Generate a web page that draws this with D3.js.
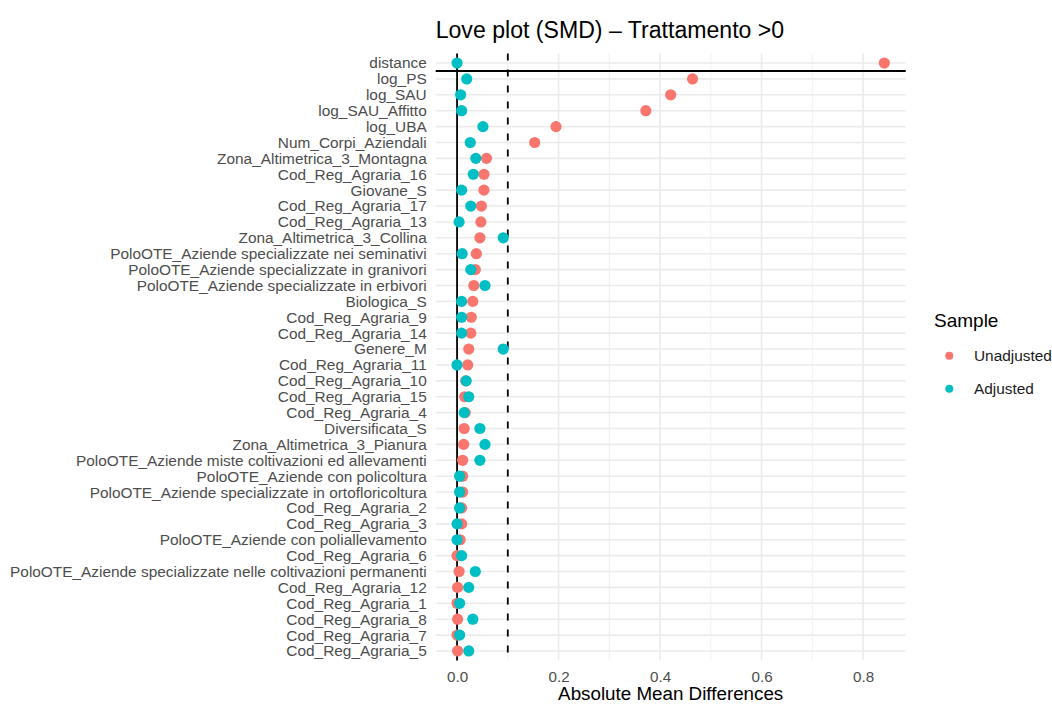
<!DOCTYPE html>
<html>
<head>
<meta charset="utf-8">
<script src="https://cdn.jsdelivr.net/npm/d3@7"></script>
<style>
  html, body { margin: 0; padding: 0; background: #fff; }
  svg { display: block; font-family: "Liberation Sans", Arial, sans-serif; }
</style>
</head>
<body>
<svg id="chart" width="1052" height="704"></svg>
<script>
// Covariates, top to bottom
const covariates = [
  "distance", "log_PS", "log_SAU", "log_SAU_Affitto", "log_UBA",
  "Num_Corpi_Aziendali", "Zona_Altimetrica_3_Montagna", "Cod_Reg_Agraria_16",
  "Giovane_S", "Cod_Reg_Agraria_17", "Cod_Reg_Agraria_13",
  "Zona_Altimetrica_3_Collina", "PoloOTE_Aziende specializzate nei seminativi",
  "PoloOTE_Aziende specializzate in granivori", "PoloOTE_Aziende specializzate in erbivori",
  "Biologica_S", "Cod_Reg_Agraria_9", "Cod_Reg_Agraria_14", "Genere_M",
  "Cod_Reg_Agraria_11", "Cod_Reg_Agraria_10", "Cod_Reg_Agraria_15", "Cod_Reg_Agraria_4",
  "Diversificata_S", "Zona_Altimetrica_3_Pianura",
  "PoloOTE_Aziende miste coltivazioni ed allevamenti", "PoloOTE_Aziende con policoltura",
  "PoloOTE_Aziende specializzate in ortofloricoltura", "Cod_Reg_Agraria_2",
  "Cod_Reg_Agraria_3", "PoloOTE_Aziende con poliallevamento", "Cod_Reg_Agraria_6",
  "PoloOTE_Aziende specializzate nelle coltivazioni permanenti", "Cod_Reg_Agraria_12",
  "Cod_Reg_Agraria_1", "Cod_Reg_Agraria_8", "Cod_Reg_Agraria_7", "Cod_Reg_Agraria_5"
];

// Absolute standardized mean differences before matching
const unadjusted = [
  0.842, 0.464, 0.421, 0.372, 0.195,
  0.153, 0.058, 0.053,
  0.053, 0.048, 0.047,
  0.045, 0.038,
  0.036, 0.033,
  0.031, 0.028, 0.027, 0.023,
  0.021, 0.017, 0.015, 0.016,
  0.014, 0.013,
  0.011, 0.011,
  0.011, 0.009,
  0.009, 0.006, 0.000,
  0.004, 0.001,
  0.000, 0.001, 0.000, 0.001
];

// Absolute standardized mean differences after matching
const adjusted = [
  0.000, 0.019, 0.007, 0.009, 0.051,
  0.026, 0.037, 0.032,
  0.009, 0.027, 0.004,
  0.091, 0.010,
  0.027, 0.055,
  0.009, 0.009, 0.009, 0.091,
  0.000, 0.018, 0.023, 0.014,
  0.045, 0.055,
  0.045, 0.005,
  0.005, 0.005,
  0.000, 0.000, 0.009,
  0.036, 0.023,
  0.005, 0.031, 0.005, 0.023
];

const xTicks = [0.0, 0.2, 0.4, 0.6, 0.8];
const xMinorTicks = [0.1, 0.3, 0.5, 0.7];
const threshold = 0.1;
const sampleNames = ["Unadjusted", "Adjusted"];
const sampleColors = ["#F8766D", "#00BFC4"];

const svg = d3.select("#chart");
const panel = { left: 435.7, right: 905.7, top: 53.5, bottom: 660.5 };

// Continuous x with 5% expansion of the data range
const allVals = unadjusted.concat(adjusted);
const lo = d3.min(allVals), hi = d3.max(allVals);
const pad = (hi - lo) * 0.05;
const x = d3.scaleLinear().domain([lo - pad, hi + pad]).range([panel.left, panel.right]);

// Discrete y with 0.6 step expansion
const y = d3.scalePoint().domain(covariates).range([panel.top, panel.bottom]).padding(0.6);

const grid = svg.append("g");
// minor vertical grid
grid.selectAll("line.minor").data(xMinorTicks).join("line")
  .attr("x1", d => x(d)).attr("x2", d => x(d))
  .attr("y1", panel.top).attr("y2", panel.bottom)
  .attr("stroke", "#ebebeb").attr("stroke-width", 0.8);
// major vertical grid
grid.selectAll("line.major").data(xTicks).join("line")
  .attr("x1", d => x(d)).attr("x2", d => x(d))
  .attr("y1", panel.top).attr("y2", panel.bottom)
  .attr("stroke", "#ebebeb").attr("stroke-width", 1.6);
// horizontal grid, one per covariate
grid.selectAll("line.row").data(covariates).join("line")
  .attr("x1", panel.left).attr("x2", panel.right)
  .attr("y1", d => y(d)).attr("y2", d => y(d))
  .attr("stroke", "#ebebeb").attr("stroke-width", 1.6);

// reference lines: zero and balance threshold
svg.append("line")
  .attr("x1", x(0)).attr("x2", x(0))
  .attr("y1", panel.top).attr("y2", panel.bottom)
  .attr("stroke", "#000").attr("stroke-width", 1.8);
svg.append("line")
  .attr("x1", x(threshold)).attr("x2", x(threshold))
  .attr("y1", panel.top).attr("y2", panel.bottom)
  .attr("stroke", "#000").attr("stroke-width", 1.8)
  .attr("stroke-dasharray", "7,9");

// separator under the distance row
const sepY = (y(covariates[0]) + y(covariates[1])) / 2;
svg.append("line")
  .attr("x1", panel.left).attr("x2", panel.right)
  .attr("y1", sepY).attr("y2", sepY)
  .attr("stroke", "#000").attr("stroke-width", 1.8);

// points: unadjusted first, adjusted on top
const series = [unadjusted, adjusted];
series.forEach((vals, si) => {
  svg.append("g").selectAll("circle").data(covariates).join("circle")
    .attr("cx", (d, i) => x(vals[i]))
    .attr("cy", d => y(d))
    .attr("r", 5.6)
    .attr("fill", sampleColors[si]);
});

// y axis labels
const yAxis = d3.axisLeft(y).tickSize(0).tickPadding(9);
const gy = svg.append("g").attr("transform", `translate(${panel.left},0)`).call(yAxis);
gy.select(".domain").remove();
gy.selectAll("text")
  .attr("fill", "#4d4d4d")
  .style("font-size", "15.4px")
  .style("font-family", '"Liberation Sans", Arial, sans-serif');

// x axis labels
const xAxis = d3.axisBottom(x).tickValues(xTicks).tickFormat(d3.format(".1f")).tickSize(0).tickPadding(0);
const gx = svg.append("g").attr("transform", `translate(0,${panel.bottom})`).call(xAxis);
gx.select(".domain").remove();
gx.selectAll("text")
  .attr("dy", null)
  .attr("y", 21.3)
  .attr("fill", "#4d4d4d")
  .style("font-size", "15.2px")
  .style("font-family", '"Liberation Sans", Arial, sans-serif');

// titles
svg.append("text")
  .attr("x", panel.left).attr("y", 37.7)
  .attr("font-size", "23.1px").attr("fill", "#000")
  .text("Love plot (SMD) \u2013 Trattamento >0");

svg.append("text")
  .attr("x", (panel.left + panel.right) / 2).attr("y", 700.2)
  .attr("text-anchor", "middle")
  .attr("font-size", "18.8px").attr("fill", "#000")
  .text("Absolute Mean Differences");

// legend
const legend = svg.append("g");
legend.append("text")
  .attr("x", 934).attr("y", 326.7)
  .attr("font-size", "19px").attr("fill", "#000")
  .text("Sample");
const keyY = [355.7, 388.7];
sampleNames.forEach((name, i) => {
  legend.append("circle")
    .attr("cx", 949.3).attr("cy", keyY[i]).attr("r", 4)
    .attr("fill", sampleColors[i]);
  legend.append("text")
    .attr("x", 974).attr("y", keyY[i] + 5.3)
    .attr("font-size", "15.4px").attr("fill", "#1a1a1a")
    .text(name);
});
</script>
</body>
</html>
